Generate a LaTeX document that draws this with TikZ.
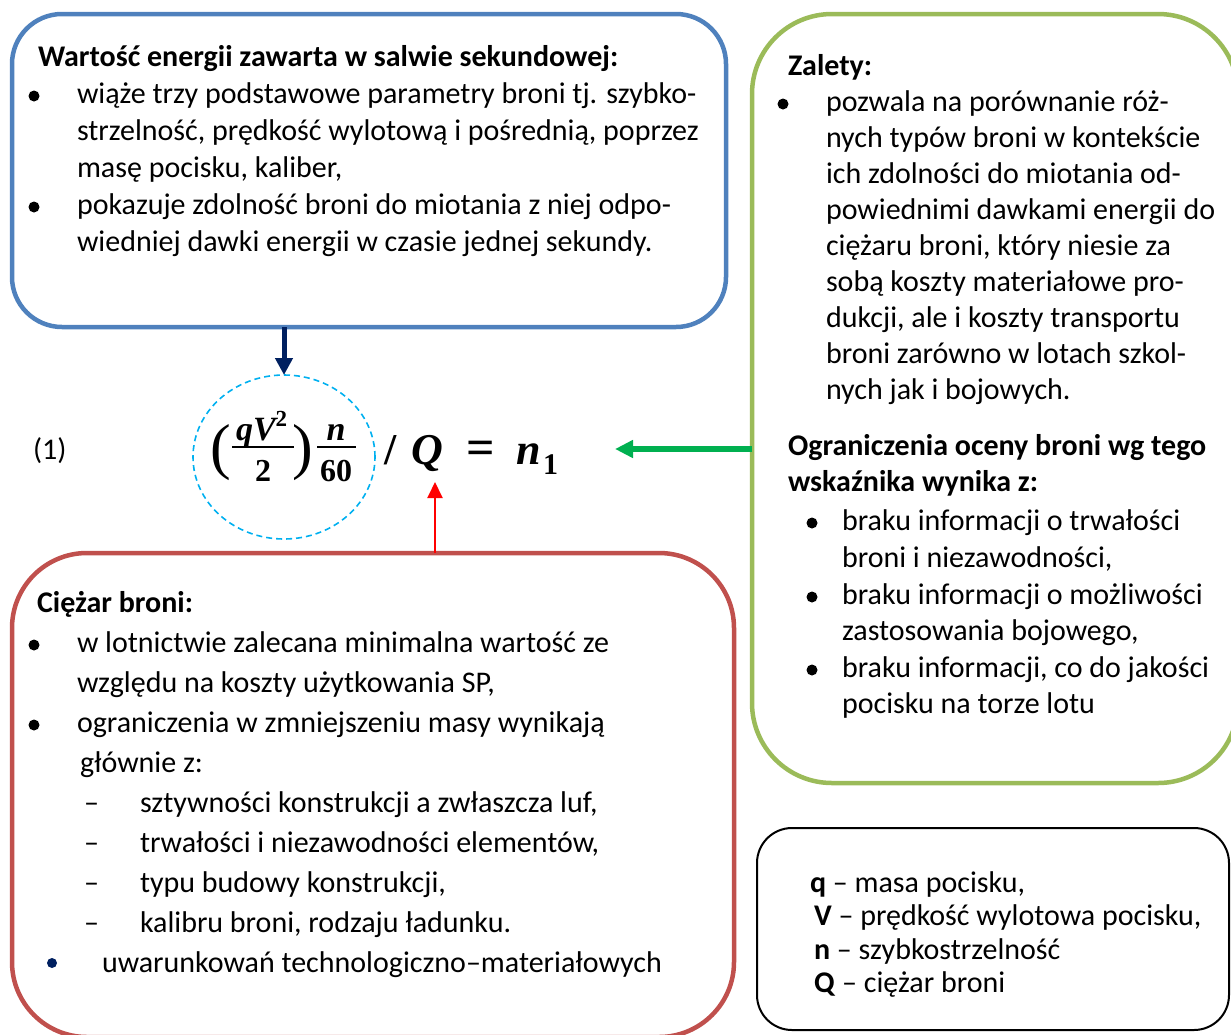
\documentclass[tikz,border=0pt]{standalone}
\usepackage{fontspec}
\setmainfont{Carlito}
\newfontfamily\mfont{Liberation Serif}
\usetikzlibrary{arrows.meta,shapes.geometric}
\definecolor{cBlue}{HTML}{4F81BD}
\definecolor{cGreen}{HTML}{9BBB59}
\definecolor{cRed}{HTML}{C0504D}
\definecolor{cNavy}{HTML}{002060}
\definecolor{cSky}{HTML}{00B0F0}
\definecolor{cGArrow}{HTML}{00B050}
\definecolor{cRArrow}{HTML}{FF0000}
\begin{document}
\begin{tikzpicture}[x=1pt,y=-1pt,
  boxnode/.style={draw, line width=4.5pt, inner sep=0pt, outer sep=0pt, fill=none},
  txt/.style={anchor=base west, inner sep=0pt, outer sep=0pt, font=\fontsize{30}{36}\selectfont},
  ttl/.style={txt, font=\fontsize{30}{36}\selectfont\bfseries},
  dot/.style={fill=black},
  mbig/.style={anchor=base, inner sep=0pt, outer sep=0pt, font=\mfont\bfseries\itshape\fontsize{44}{44}\selectfont},
  mbigup/.style={anchor=base, inner sep=0pt, outer sep=0pt, font=\mfont\bfseries\fontsize{44}{44}\selectfont},
  msmall/.style={anchor=base, inner sep=0pt, outer sep=0pt, font=\mfont\bfseries\itshape\fontsize{34}{34}\selectfont},
  msmallup/.style={anchor=base, inner sep=0pt, outer sep=0pt, font=\mfont\bfseries\fontsize{32}{32}\selectfont},
  mparen/.style={anchor=base, inner sep=0pt, outer sep=0pt, font=\mfont\fontsize{62}{62}\selectfont},
  fbar/.style={line width=2.6pt},
]
\useasboundingbox (0,0) rectangle (1231,1034);
\clip (0,0) rectangle (1231,1034);

% boxes
\node[boxnode, draw=cBlue, rounded corners=50pt, minimum width=714pt, minimum height=313pt] (bluebox) at (369,170.5) {};
\node[boxnode, draw=cGreen, rounded corners=80pt, minimum width=486pt, minimum height=769pt] (greenbox) at (995,398.5) {};
\node[boxnode, draw=cRed, rounded corners=75pt, minimum width=722pt, minimum height=484pt] (redbox) at (373,795) {};
\node[boxnode, draw=black, line width=2pt, rounded corners=35pt, minimum width=472pt, minimum height=202pt] (blackbox) at (993,929) {};

% blue box text
\node[ttl] (b0) at (38,66) {Wartość energii zawarta w salwie sekundowej:};
\fill[dot] (34,96) circle (5.5pt);
\node[txt] (b1) at (77,103) {wiąże trzy podstawowe parametry broni tj. szybko-};
\node[txt] (b2) at (77,140) {strzelność, prędkość wylotową i pośrednią, poprzez};
\node[txt] (b3) at (77,177) {masę pocisku, kaliber,};
\fill[dot] (34,207) circle (5.5pt);
\node[txt] (b4) at (77,214) {pokazuje zdolność broni do miotania z niej odpo-};
\node[txt] (b5) at (77,251) {wiedniej dawki energii w czasie jednej sekundy.};

% green box text
\node[ttl] (g0) at (788,75) {Zalety:};
\fill[dot] (783,104) circle (5.5pt);
\node[txt] (g1) at (826,111) {pozwala na porównanie róż-};
\node[txt] (g2) at (826,147) {nych typów broni w kontekście};
\node[txt] (g3) at (826,183) {ich zdolności do miotania od-};
\node[txt] (g4) at (826,219) {powiednimi dawkami energii do};
\node[txt] (g5) at (826,255) {ciężaru broni, który niesie za};
\node[txt] (g6) at (826,291) {sobą koszty materiałowe pro-};
\node[txt] (g7) at (826,327) {dukcji, ale i koszty transportu};
\node[txt] (g8) at (826,363) {broni zarówno w lotach szkol-};
\node[txt] (g9) at (826,399) {nych jak i bojowych.};
\node[ttl] (g10) at (788,455) {Ograniczenia oceny broni wg tego};
\node[ttl] (g11) at (788,491) {wskaźnika wynika z:};
\fill[dot] (812,523) circle (5.5pt);
\node[txt] (g12) at (842,530) {braku informacji o trwałości};
\node[txt] (g13) at (842,567) {broni i niezawodności,};
\fill[dot] (812,597) circle (5.5pt);
\node[txt] (g14) at (842,604) {braku informacji o możliwości};
\node[txt] (g15) at (842,640) {zastosowania bojowego,};
\fill[dot] (812,670) circle (5.5pt);
\node[txt] (g16) at (842,677) {braku informacji, co do jakości};
\node[txt] (g17) at (842,713) {pocisku na torze lotu};

% red box text
\node[ttl] (r0) at (37,612) {Ciężar broni:};
\fill[dot] (34,645) circle (5.5pt);
\node[txt] (r1) at (77,652) {w lotnictwie zalecana minimalna wartość ze};
\node[txt] (r2) at (77,692) {względu na koszty użytkowania SP,};
\fill[dot] (34,725) circle (5.5pt);
\node[txt] (r3) at (77,732) {ograniczenia w zmniejszeniu masy wynikają};
\node[txt] (r4) at (80,772) {głównie z:};
\node[txt] (d1) at (84,812) {–};
\node[txt] (r5) at (140,812) {sztywności konstrukcji a zwłaszcza luf,};
\node[txt] (d2) at (84,852) {–};
\node[txt] (r6) at (140,852) {trwałości i niezawodności elementów,};
\node[txt] (d3) at (84,892) {–};
\node[txt] (r7) at (140,892) {typu budowy konstrukcji,};
\node[txt] (d4) at (84,932) {–};
\node[txt] (r8) at (140,932) {kalibru broni, rodzaju ładunku.};
\fill[cNavy] (52,963) circle (5pt);
\node[txt] (r9) at (102,972) {uwarunkowań technologiczno–materiałowych};

% black box legend
\node[txt] (k1) at (810,892) {\textbf{q} – masa pocisku,};
\node[txt] (k2) at (814,925) {\textbf{V} – prędkość wylotowa pocisku,};
\node[txt] (k3) at (814,959) {\textbf{n} – szybkostrzelność};
\node[txt] (k4) at (814,992) {\textbf{Q} – ciężar broni};

% formula
\node[txt] (eqno) at (33,459) {(1)};
\node[ellipse, draw=cSky, line width=1.6pt, dash pattern=on 6pt off 4pt, minimum width=182pt, minimum height=164pt, inner sep=0pt, outer sep=0pt] (circ) at (284,457) {};
\node[mparen] (lp) at (221,467) {(};
\node[msmall, anchor=base west] (num1) at (236,440) {qV\raisebox{14pt}{\upshape\fontsize{23}{23}\selectfont 2}};
\draw[fbar] (232,447) -- (294,447);
\node[msmallup] (den1) at (263,481) {2};
\node[mparen] (rp) at (303,467) {)};
\node[msmall] (num2) at (336,440) {n};
\draw[fbar] (317,447) -- (356,447);
\node[msmallup] (den2) at (336,481) {60};
\node[mbigup] (slash) at (391,464) {/};
\node[mbig] (bigQ) at (427,464) {Q};
\node[mbigup, font=\mfont\bfseries\fontsize{50}{50}\selectfont] (eq) at (481,464) {=};
\node[mbig, anchor=base west] (n1) at (516,464) {n};
\node[msmallup, anchor=base west, font=\mfont\bfseries\fontsize{30}{30}\selectfont] (sub1) at (543,474) {1};

\coordinate (gtip) at (615,449);
\coordinate (rtip) at (435,482);

% connectors
\draw[cNavy, line width=5pt, -{Triangle[length=17pt,width=17pt]}] (bluebox.south -| circ.north) -- (circ.north);
\draw[cGArrow, line width=6pt, -{Triangle[length=18pt,width=17pt]}] (greenbox.west |- gtip) -- (gtip);
\draw[cRArrow, line width=2pt, -{Triangle[length=16pt,width=15pt]}] (redbox.north -| rtip) -- (rtip);
\end{tikzpicture}
\end{document}
